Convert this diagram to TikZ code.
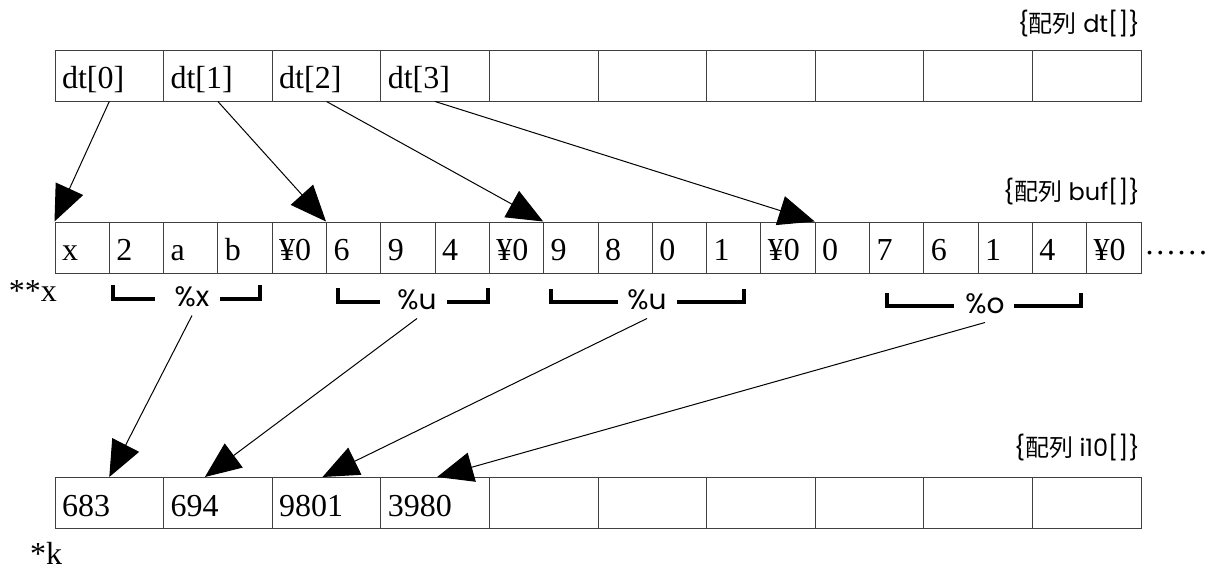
\documentclass[tikz,border=0pt]{standalone}
\usepackage{fontspec}
\setmainfont{Liberation Serif}
\newfontfamily\lblfont{Poppins}
\newfontfamily\cjkfont{Noto Sans CJK JP}
\usetikzlibrary{arrows.meta}
\begin{document}
\begin{tikzpicture}[x=0.5pt,y=-0.5pt,
  cellbase/.style={draw=black!75, line width=0.5pt, minimum height=25.5pt, inner xsep=3.5pt, inner ysep=0pt, text height=14pt, text depth=1pt, align=left, anchor=center, font=\fontsize{16}{16}\selectfont},
  widecell/.style={cellbase, text width=47.3pt},
  narrowcell/.style={cellbase, text width=20.15pt},
  arrlbl/.style={font=\lblfont\fontsize{12}{12}\selectfont, inner sep=0pt},
  fmtlbl/.style={font=\lblfont\fontsize{14}{14}\selectfont, inner xsep=0pt, inner ysep=4pt},
  brk/.style={line width=1.8pt},
  conn/.style={draw, line width=0.5pt, -{Triangle[length=18pt,width=15pt]}},
  serif/.style={font=\fontsize{16}{16}\selectfont, inner sep=0pt}
]
\useasboundingbox (0,0) rectangle (1220,568);

% array dt[]
\foreach \t [count=\i from 0] in {dt[0],dt[1],dt[2],dt[3],{},{},{},{},{},{}}
  \node[widecell] (d\i) at ({55+108.6*(\i+0.5)},75.5) {\t};
\node[arrlbl, anchor=east] (ldt) at (1140,24) {\{{\cjkfont 配列} dt[]\}};

% array buf[]
\foreach \t [count=\i from 0] in {x,2,a,b,¥0,6,9,4,¥0,9,8,0,1,¥0,0,7,6,1,4,¥0}
  \node[narrowcell] (b\i) at ({55+54.3*(\i+0.5)},247.5) {\t};
\node[arrlbl, anchor=east] (lbuf) at (1140,192) {\{{\cjkfont 配列} buf[]\}};
\node[serif, anchor=base west] (dots) at (1144,254) {……};

% array i10[]
\foreach \t [count=\i from 0] in {683,694,9801,3980,{},{},{},{},{},{}}
  \node[widecell] (k\i) at ({55+108.6*(\i+0.5)},503) {\t};
\node[arrlbl, anchor=east] (lk) at (1140,448) {\{{\cjkfont 配列} i10[]\}};

% pointer labels
\node[serif] (px) at (33,291) {**x};
\node[serif] (pk) at (46,553) {*k};

% format brackets
\node[fmtlbl] (f0) at (192,297) {\%x};
\draw[brk] (113,285) |- (155,299);
\draw[brk] (220,299) -| (260,285);
\node[fmtlbl] (f1) at (417,300) {\%u};
\draw[brk] (338,288) |- (380,302);
\draw[brk] (447,302) -| (488,288);
\node[fmtlbl] (f2) at (647,300) {\%u};
\draw[brk] (551,289) |- (618,302);
\draw[brk] (677,302) -| (744,289);
\node[fmtlbl] (f3) at (985,304) {\%o};
\draw[brk] (887,293) |- (954,306);
\draw[brk] (1014,306) -| (1081,293);

% pointers dt -> buf
\draw[conn] (d0.south) -- (b0.north west);
\draw[conn] (d1.south) -- (b5.north west);
\draw[conn] (d2.south) -- (b9.north west);
\draw[conn] (d3.south) -- (b14.north west);

% conversions -> i10
\draw[conn] (f0.south) -- (k0.north);
\draw[conn] (f1.south) -- ([xshift=-6.5pt]k1.north);
\draw[conn] (f2.south) -- ([xshift=-2pt]k2.north);
\draw[conn] (f3.south) -- ([xshift=1pt]k3.north);
\end{tikzpicture}
\end{document}
